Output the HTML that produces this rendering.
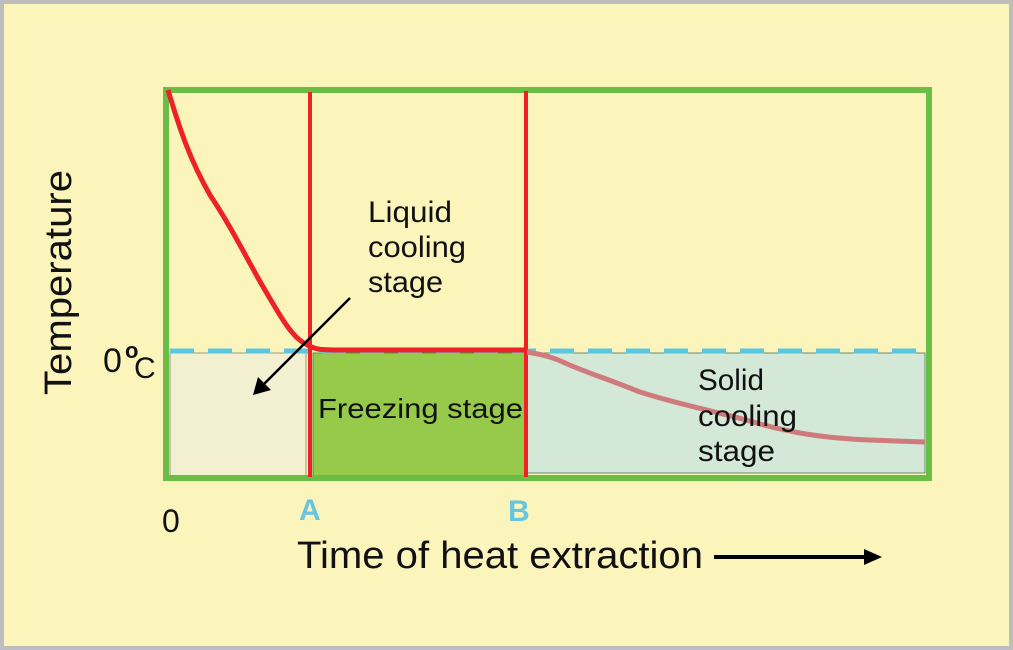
<!DOCTYPE html>
<html><head><meta charset="utf-8"><style>
html,body{margin:0;padding:0;width:1013px;height:650px;overflow:hidden;background:#bdbdbd}
svg{display:block}
text{font-family:"Liberation Sans",Arial,sans-serif}
</style></head><body>
<svg width="1013" height="650" viewBox="0 0 1013 650" xmlns="http://www.w3.org/2000/svg">
<rect x="4" y="4" width="1005" height="642" fill="#fbf5bc"/>
<rect x="170" y="353" width="136" height="124" fill="#f3f0d2" stroke="#9a9a80" stroke-width="1"/>
<rect x="313" y="353" width="212" height="127" fill="#97c94a" stroke="#3a9a4a" stroke-width="1"/>
<rect x="527" y="353" width="398" height="120" fill="#d3e8d6" stroke="#6a8a70" stroke-width="1"/>
<line x1="170" y1="351" x2="925" y2="351" stroke="#5bc6e0" stroke-width="5" stroke-dasharray="24,14"/>
<rect x="166" y="90" width="763" height="388" fill="none" stroke="#6cbd45" stroke-width="6"/>
<line x1="310" y1="92" x2="310" y2="477" stroke="#ee2126" stroke-width="4"/>
<line x1="526" y1="91" x2="526" y2="477" stroke="#ee2126" stroke-width="4"/>
<path d="M168,90 C180,130 190,160 210,195 C230,225 245,255 262,285 C278,312 290,335 304,343 C315,350 320,350 340,350 L526,350" fill="none" stroke="#ee2126" stroke-width="5" stroke-linejoin="round"/>
<path d="M527,352 C545,355 555,358 565,363 C585,372 605,378 640,392 C680,405 720,412 760,424 C790,432 820,438 870,440 L925,442" fill="none" stroke="#cf7a7c" stroke-width="5"/>
<line x1="350" y1="298" x2="262" y2="386" stroke="#000" stroke-width="2.5"/>
<polygon points="253,395 258,377 271,390" fill="#000"/>
<text x="368" y="222" font-size="30" fill="#111" textLength="84" lengthAdjust="spacingAndGlyphs">Liquid</text>
<text x="368" y="257" font-size="30" fill="#111" textLength="98" lengthAdjust="spacingAndGlyphs">cooling</text>
<text x="368" y="292" font-size="30" fill="#111" textLength="75" lengthAdjust="spacingAndGlyphs">stage</text>
<text x="318" y="418" font-size="28" fill="#111" textLength="205" lengthAdjust="spacingAndGlyphs">Freezing stage</text>
<text x="698" y="390" font-size="30" fill="#111" textLength="66" lengthAdjust="spacingAndGlyphs">Solid</text>
<text x="698" y="426" font-size="30" fill="#111" textLength="99" lengthAdjust="spacingAndGlyphs">cooling</text>
<text x="698" y="461" font-size="30" fill="#111" textLength="77" lengthAdjust="spacingAndGlyphs">stage</text>
<text transform="translate(71,395) rotate(-90)" font-size="38" fill="#111" textLength="225" lengthAdjust="spacingAndGlyphs">Temperature</text>
<text x="103" y="372" font-size="34" fill="#111">0</text>
<text x="125" y="358" font-size="22" font-weight="bold" fill="#111">o</text>
<text x="134" y="378" font-size="30" fill="#111">C</text>
<text x="162" y="532" font-size="32" fill="#111">0</text>
<text x="299" y="520" font-size="30" font-weight="bold" fill="#66c6e0">A</text>
<text x="508" y="521" font-size="30" font-weight="bold" fill="#66c6e0">B</text>
<text x="297" y="568" font-size="38" fill="#111" textLength="406" lengthAdjust="spacingAndGlyphs">Time of heat extraction</text>
<line x1="714" y1="557" x2="868" y2="557" stroke="#000" stroke-width="4"/>
<polygon points="882,557 864,549 864,565" fill="#000"/>
</svg>
</body></html>
